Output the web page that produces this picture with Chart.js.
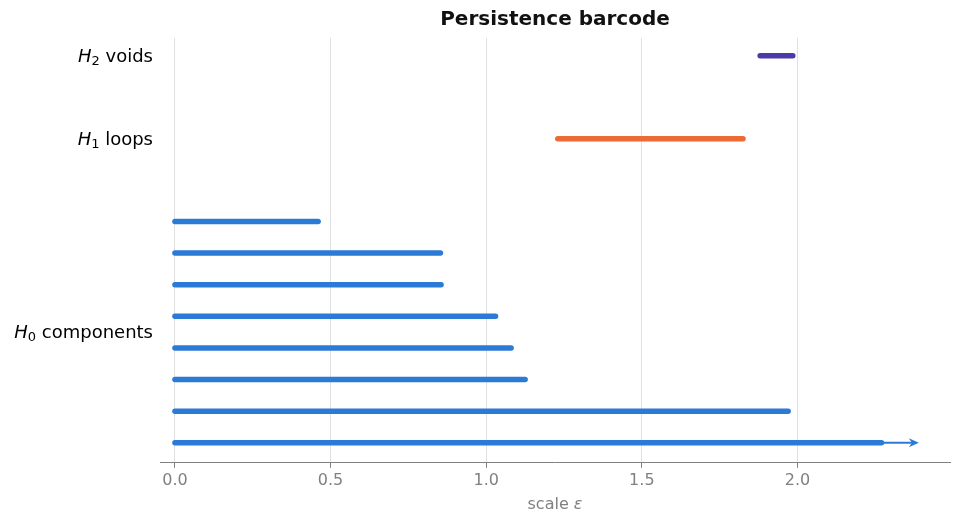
<!DOCTYPE html>
<html>
<head>
<meta charset="utf-8">
<script src="https://cdn.jsdelivr.net/npm/chart.js@4"></script>
<style>
  html, body { margin: 0; padding: 0; background: #fff; }
  #wrap { width: 962px; height: 526px; }
</style>
</head>
<body>
<div id="wrap"><canvas id="barcode"></canvas></div>
<script>
// ================= DATA =================
// H0: every component is born at 0, deaths read off the picture (bottom row first)
const h0Births = [0, 0, 0, 0, 0, 0, 0, 0];
const h0Deaths = [2.27, 1.97, 1.125, 1.08, 1.03, 0.855, 0.853, 0.46];
const h0Rows   = [0, 1, 2, 3, 4, 5, 6, 7];
const infiniteArrowEnd = 2.39;   // the first bar never dies

const h1Births = [1.23];
const h1Deaths = [1.825];
const h1Rows   = [9.61];

const h2Births = [1.88];
const h2Deaths = [1.985];
const h2Rows   = [12.24];

const xTicks = [0, 0.5, 1.0, 1.5, 2.0];

// group labels on the left: [subscript, word, row]
const groupLabels = [
  ["0", "components", 3.5],
  ["1", "loops", 9.61],
  ["2", "voids", 12.24]
];

const BLUE = "#2b7bd6";
const ORANGE = "#eb6a35";
const PURPLE = "#4c3aa8";
const FONT = "'DejaVu Sans', sans-serif";

// ================= DATASETS =================
function barsFor(births, deaths, rows, color) {
  return births.map((b, i) => ({
    data: [{ x: b, y: rows[i] }, { x: deaths[i], y: rows[i] }],
    borderColor: color,
    borderWidth: 5.5,
    borderCapStyle: "round",
    pointRadius: 0,
    pointHoverRadius: 0
  }));
}

const datasets = [
  ...barsFor(h0Births, h0Deaths, h0Rows, BLUE),
  ...barsFor(h1Births, h1Deaths, h1Rows, ORANGE),
  ...barsFor(h2Births, h2Deaths, h2Rows, PURPLE),
  {
    // thin tail of the infinite bar
    data: [{ x: h0Deaths[0], y: h0Rows[0] }, { x: infiniteArrowEnd - 0.02, y: h0Rows[0] }],
    borderColor: BLUE,
    borderWidth: 1.8,
    pointRadius: 0,
    pointHoverRadius: 0
  }
];

// ================= PLUGIN: labels + arrow head =================
const barcodeDecor = {
  id: "barcodeDecor",
  afterDatasetsDraw(chart) {
    const ctx = chart.ctx;
    const xs = chart.scales.x;
    const ys = chart.scales.y;
    const area = chart.chartArea;

    // arrow head
    const tipX = xs.getPixelForValue(infiniteArrowEnd);
    const tipY = ys.getPixelForValue(h0Rows[0]);
    ctx.save();
    ctx.fillStyle = BLUE;
    ctx.beginPath();
    ctx.moveTo(tipX, tipY);
    ctx.lineTo(tipX - 10, tipY - 4.5);
    ctx.lineTo(tipX - 7, tipY);
    ctx.lineTo(tipX - 10, tipY + 4.5);
    ctx.closePath();
    ctx.fill();
    ctx.restore();

    // left group labels: italic H, subscript, word
    ctx.save();
    ctx.fillStyle = "#000";
    ctx.textBaseline = "alphabetic";
    groupLabels.forEach(([sub, word, row]) => {
      const y = ys.getPixelForValue(row) + 6;
      const right = area.left - 7;
      ctx.font = "18px " + FONT;
      const wWord = ctx.measureText(" " + word).width;
      ctx.font = "13px " + FONT;
      const wSub = ctx.measureText(sub).width;
      ctx.font = "italic 18px " + FONT;
      const wH = ctx.measureText("H").width;
      let x = right - wWord - wSub - wH;
      ctx.fillText("H", x, y);
      x += wH;
      ctx.font = "13px " + FONT;
      ctx.fillText(sub, x, y + 3);
      x += wSub;
      ctx.font = "18px " + FONT;
      ctx.fillText(" " + word, x, y);
    });
    ctx.restore();

    // x axis title "scale ε"
    ctx.save();
    ctx.fillStyle = "#808080";
    ctx.textBaseline = "middle";
    const cx = (area.left + area.right) / 2;
    const ty = area.bottom + 42;
    ctx.font = "16px " + FONT;
    const w1 = ctx.measureText("scale ").width;
    ctx.font = "italic 16px " + FONT;
    const w2 = ctx.measureText("ε").width;
    let x0 = cx - (w1 + w2) / 2;
    ctx.font = "16px " + FONT;
    ctx.fillText("scale ", x0, ty);
    ctx.font = "italic 16px " + FONT;
    ctx.fillText("ε", x0 + w1, ty);
    ctx.restore();
  }
};

// ================= CHART =================
new Chart(document.getElementById("barcode"), {
  type: "line",
  data: { datasets },
  plugins: [barcodeDecor],
  options: {
    responsive: true,
    maintainAspectRatio: false,
    animation: false,
    layout: { padding: { left: 160, right: 12, top: 0, bottom: 33 } },
    plugins: {
      legend: { display: false },
      tooltip: { enabled: false },
      title: {
        display: true,
        text: "Persistence barcode",
        color: "#111",
        font: { family: FONT, size: 20, weight: "bold" },
        padding: { top: 8, bottom: 6 }
      }
    },
    scales: {
      x: {
        type: "linear",
        min: -0.048,
        max: 2.49,
        afterBuildTicks(scale) {
          scale.ticks = xTicks.map(v => ({ value: v }));
        },
        ticks: {
          color: "#808080",
          font: { family: FONT, size: 16 },
          padding: 3,
          callback: v => v.toFixed(1)
        },
        grid: {
          color: "#e0e0e0",
          tickColor: "#808080",
          tickLength: 5,
          lineWidth: 1
        },
        border: { color: "#808080", width: 1 }
      },
      y: {
        type: "linear",
        display: false,
        min: -0.634,
        max: 12.8
      }
    }
  }
});
</script>
</body>
</html>
